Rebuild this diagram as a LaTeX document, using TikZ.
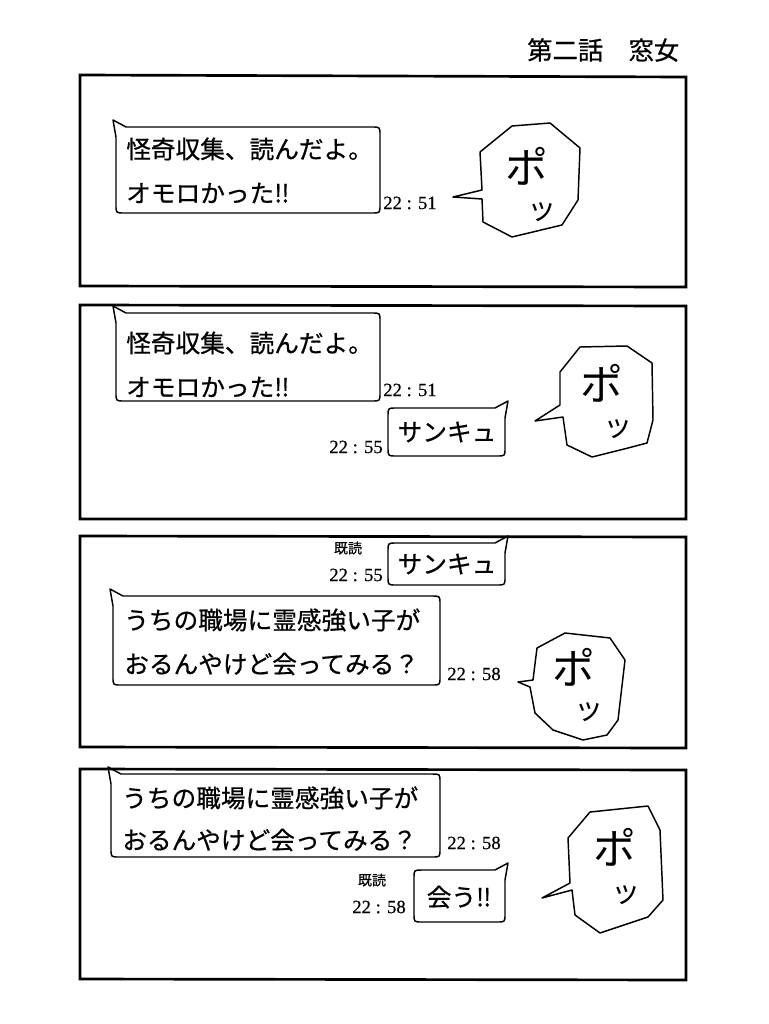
\documentclass[tikz,border=0pt]{standalone}
\usepackage{fontspec}
\newfontfamily\jp{Noto Sans CJK JP}
\newfontfamily\jpb[FakeBold=0.6]{Noto Sans CJK JP}
\newfontfamily\tmf[FakeBold=0.4]{Liberation Serif}
\newcommand\lbub[4]{\draw[bub] (#1-3,#2-7) -- (#1+10,#2) -- (#3-8,#2) .. controls (#3,#2) .. (#3,#2+8) -- (#3,#4-8) .. controls (#3,#4) .. (#3-8,#4) -- (#1+8,#4) .. controls (#1,#4) .. (#1,#4-8) -- (#1,#2+10) -- cycle;}
\newcommand\rbub[4]{\draw[bub] (#3+3,#2-7) -- (#3,#2+10) -- (#3,#4-8) .. controls (#3,#4) .. (#3-8,#4) -- (#1+8,#4) .. controls (#1,#4) .. (#1,#4-8) -- (#1,#2+8) .. controls (#1,#2) .. (#1+8,#2) -- (#3-10,#2) -- cycle;}
\tikzset{
  panel/.style={draw,line width=2pt},
  bub/.style={draw,line width=1.1pt,line join=round},
  burst/.style={draw,line width=1.1pt,line join=round,fill=white},
  msg/.style={font=\jpb\fontsize{18.5}{20}\selectfont,anchor=west,inner sep=0pt},
  msgc/.style={font=\jpb\fontsize{18.5}{20}\selectfont,inner sep=0pt},
  tm/.style={font=\tmf\fontsize{14}{16}\selectfont,inner sep=0pt},
  kidoku/.style={font=\jpb\fontsize{10.5}{12}\selectfont,inner sep=0pt},
  po/.style={font=\jp\fontsize{32}{34}\selectfont,inner sep=0pt},
  tsu/.style={font=\jp\fontsize{22}{24}\selectfont,inner sep=0pt},
  ttl/.style={font=\jpb\fontsize{19}{21}\selectfont,anchor=west,inner sep=0pt}
}
\begin{document}
\begin{tikzpicture}[x=0.75pt,y=-0.75pt]
\useasboundingbox[fill=white] (0,0) rectangle (768,1024);
% title
\node[ttl] (title) at (527,50) {第二話　窓女};
% panels
\draw[panel] (80,75) -- (686,77) -- (686,287) -- (80,286) -- cycle;
\draw[panel] (80,305) -- (686,306) -- (686,519) -- (80,519) -- cycle;
\draw[panel] (80,536) -- (686,537) -- (686,748) -- (80,747) -- cycle;
\draw[panel] (80,769) -- (686,770) -- (686,980) -- (80,979) -- cycle;

% ---------- panel 1
\lbub{116}{127}{380}{213}
\node[msg] (m1a) at (126,149) {怪奇収集、読んだよ。};
\node[msg] (m1b) at (126,193) {オモロかった‼};
\node[tm,anchor=west] (t1) at (383,203) {22 : 51};
\draw[burst] (480,152) -- (512,126) -- (550,123) -- (580,148) -- (578,200) -- (562,225) -- (512,237) -- (483,222) -- (482,199) -- (453,197) -- (482,190) -- cycle;
\node[po] (po1) at (527,166) {ポ};
\node[tsu] (tsu1) at (542,212) {ッ};

% ---------- panel 2
\lbub{116}{313}{380}{401}
\node[msg] (m2a) at (126,343) {怪奇収集、読んだよ。};
\node[msg] (m2b) at (126,387) {オモロかった‼};
\node[tm,anchor=west] (t2a) at (383,390) {22 : 51};
\rbub{388}{408}{505}{456}
\node[msgc] (m2c) at (447,432) {サンキュ};
\node[tm,anchor=east] (t2b) at (383,447) {22 : 55};
\draw[burst] (560,372) -- (580,347) -- (627,346) -- (652,363) -- (653,420) -- (647,443) -- (628,448) -- (592,457) -- (567,445) -- (563,417) -- (535,421) -- (560,405) -- cycle;
\node[po] (po2) at (602,383) {ポ};
\node[tsu] (tsu2) at (618,429) {ッ};

% ---------- panel 3
\node[kidoku] (k3) at (348,548) {既読};
\node[tm,anchor=east] (t3a) at (383,575) {22 : 55};
\rbub{388}{543}{505}{585}
\node[msgc] (m3a) at (447,564) {サンキュ};
\lbub{113}{596}{440}{685}
\node[msg] (m3b) at (124,620) {うちの職場に霊感強い子が};
\node[msg] (m3c) at (124,664) {おるんやけど会ってみる？};
\node[tm,anchor=west] (t3b) at (447,674) {22 : 58};
\draw[burst] (537,648) -- (565,633) -- (610,638) -- (625,660) -- (618,720) -- (607,735) -- (583,740) -- (553,730) -- (535,713) -- (530,687) -- (518,682) -- (533,680) -- cycle;
\node[po] (po3) at (574,667) {ポ};
\node[tsu] (tsu3) at (589,712) {ッ};

% ---------- panel 4
\lbub{111}{774}{440}{857}
\node[msg] (m4a) at (122,798) {うちの職場に霊感強い子が};
\node[msg] (m4b) at (122,840) {おるんやけど会ってみる？};
\node[tm,anchor=west] (t4a) at (447,843) {22 : 58};
\node[kidoku] (k4) at (372,880) {既読};
\node[tm,anchor=east] (t4b) at (406,907) {22 : 58};
\rbub{414}{870}{505}{922}
\node[msgc] (m4c) at (459,897) {会う‼};
\draw[burst] (568,838) -- (590,812) -- (648,806) -- (660,830) -- (663,900) -- (648,917) -- (600,933) -- (575,915) -- (572,890) -- (542,898) -- (570,883) -- cycle;
\node[po] (po4) at (615,847) {ポ};
\node[tsu] (tsu4) at (626,895) {ッ};
\end{tikzpicture}
\end{document}
